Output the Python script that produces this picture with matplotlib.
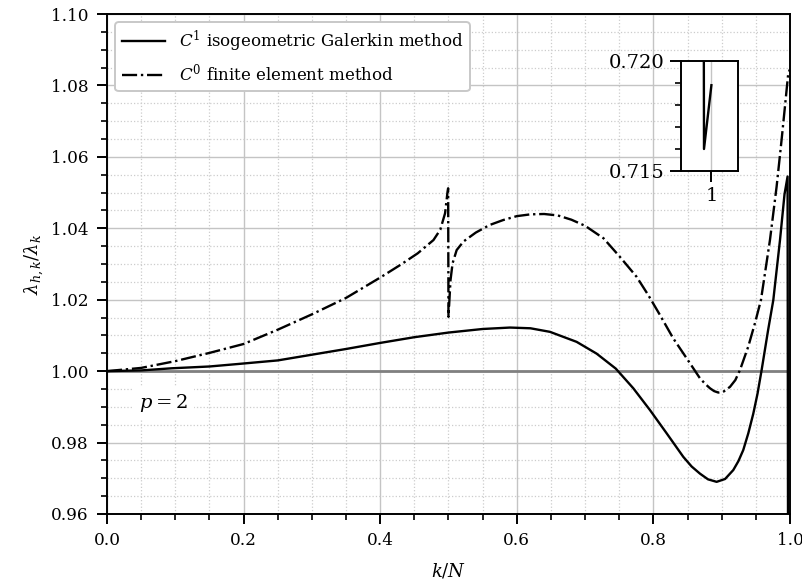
import numpy as np
import matplotlib
matplotlib.use("Agg")
import matplotlib.pyplot as plt
from matplotlib.ticker import MultipleLocator, FormatStrFormatter

plt.rcParams['font.family'] = ['DejaVu Serif']
plt.rcParams['mathtext.fontset'] = 'dejavuserif'
plt.rcParams['axes.linewidth'] = 1.4

# normalized discrete eigenvalues lambda_{h,k}/lambda_k against k/N
# C^1 quadratic isogeometric Galerkin (last mode is the outlier)
iga_x = [0.000, 0.050, 0.095, 0.150, 0.192, 0.250, 0.300, 0.350, 0.400, 0.450,
         0.500, 0.550, 0.590, 0.620, 0.6486, 0.6876, 0.7169, 0.745, 0.7706,
         0.795, 0.8194, 0.8438, 0.856, 0.8682, 0.880, 0.8926, 0.905, 0.917,
         0.9245, 0.9316, 0.939, 0.9463, 0.9525, 0.9585, 0.968, 0.9756, 0.9854,
         0.9920, 0.9965, 0.9987, 1.000]
iga_y = [1.0000, 1.0002, 1.0008, 1.0013, 1.0020, 1.0030, 1.0046, 1.0062, 1.0079, 1.0095,
         1.0108, 1.0118, 1.0122, 1.0120, 1.0110, 1.0082, 1.0049, 1.0007, 0.9952,
         0.9891, 0.9826, 0.9760, 0.9733, 0.9713, 0.9697, 0.9690, 0.9698, 0.9723,
         0.9748, 0.9779, 0.9826, 0.9881, 0.9937, 1.0003, 1.0115, 1.0199, 1.0367,
         1.0495, 1.0545, 0.7160, 0.7189]

# C^0 quadratic finite elements: acoustic branch then optical branch
fem_x = [0.000, 0.050, 0.100, 0.150, 0.200, 0.250, 0.300, 0.350, 0.400, 0.430,
         0.455, 0.478, 0.488, 0.495, 0.4985, 0.4995,
         0.5000, 0.5030, 0.5060, 0.5120, 0.5220, 0.540, 0.560, 0.580, 0.600,
         0.620, 0.640, 0.660, 0.680, 0.700, 0.727, 0.751, 0.7755, 0.7925,
         0.8097, 0.829, 0.8487, 0.8682, 0.876, 0.8829, 0.889, 0.8951, 0.903,
         0.9122, 0.920, 0.9268, 0.9388, 0.9487, 0.9575, 0.9707, 0.9804, 0.9877,
         0.9926, 0.9975, 1.000]
fem_y = [1.0000, 1.0009, 1.0028, 1.0051, 1.0076, 1.0116, 1.0159, 1.0205, 1.0262, 1.0298,
         1.0330, 1.0367, 1.0396, 1.0442, 1.0500, 1.0512,
         1.0152, 1.0255, 1.0302, 1.0339, 1.0363, 1.0388, 1.0409, 1.0423, 1.0434,
         1.0439, 1.0440, 1.0436, 1.0424, 1.0407, 1.0372, 1.0320, 1.0264, 1.0213,
         1.0157, 1.0092, 1.0036, 0.9980, 0.9964, 0.9952, 0.9944, 0.9940, 0.9943,
         0.9956, 0.9975, 1.0003, 1.0068, 1.0134, 1.0199, 1.0367, 1.0516, 1.0647,
         1.0740, 1.0834, 1.0845]

labels = [r'$C^1$ isogeometric Galerkin method', r'$C^0$ finite element method']

grid_major = '#c4c4c4'
grid_minor = '#cccccc'

fig = plt.figure(figsize=(8.02, 5.86), dpi=100)
ax = fig.add_axes([0.1334, 0.1229, 0.8516, 0.8532])

ax.plot(iga_x, iga_y, '-', color='black', lw=1.7, label=labels[0], zorder=3)
ax.plot(fem_x, fem_y, '-.', color='black', lw=1.7, label=labels[1], zorder=3)
ax.axhline(1.0, color='#808080', lw=2, zorder=2)

ax.set_xlim(0, 1)
ax.set_ylim(0.96, 1.10)
ax.xaxis.set_major_locator(MultipleLocator(0.2))
ax.xaxis.set_minor_locator(MultipleLocator(0.05))
ax.yaxis.set_major_locator(MultipleLocator(0.02))
ax.yaxis.set_minor_locator(MultipleLocator(0.005))
ax.xaxis.set_major_formatter(FormatStrFormatter('%.1f'))
ax.yaxis.set_major_formatter(FormatStrFormatter('%.2f'))
ax.tick_params(which='major', length=7, width=1.4, labelsize=12.2, pad=6)
ax.tick_params(which='minor', length=4, width=1.2)
ax.grid(which='major', color=grid_major, lw=1.0, ls='-', zorder=0)
ax.grid(which='minor', color=grid_minor, lw=0.9, ls=':', zorder=0)
ax.set_axisbelow(True)

ax.set_xlabel(r'$k/N$', fontsize=13, labelpad=9)
ax.set_ylabel(r'$\lambda_{h,k}/\lambda_k$', fontsize=13, labelpad=4)

ax.text(0.083, 0.991, r'$p=2$', fontsize=14, ha='center', va='center',
        bbox=dict(facecolor='white', edgecolor='none', pad=4), zorder=4)

leg = ax.legend(loc='upper left', fontsize=12, handlelength=2.6, framealpha=1,
                edgecolor='#c8c8c8', borderaxespad=0.5)
leg.get_frame().set_linewidth(1.4)

# zoom on the outlier mode
ins = fig.add_axes([0.849, 0.7082, 0.0711, 0.1877])
ins.plot(iga_x, iga_y, '-', color='black', lw=1.7)
ins.set_xlim(0.99465, 1.00465)
ins.set_ylim(0.715, 0.720)
ins.set_xticks([1.0])
ins.set_xticklabels(['1'])
ins.yaxis.set_major_locator(MultipleLocator(0.005))
ins.yaxis.set_minor_locator(MultipleLocator(0.001))
ins.yaxis.set_major_formatter(FormatStrFormatter('%.3f'))
ins.tick_params(which='major', length=8, width=1.4, labelsize=14)
ins.tick_params(which='minor', length=4, width=1.2)
ins.grid(which='major', axis='x', color=grid_major, lw=1.0)
for s in ins.spines.values():
    s.set_linewidth(1.4)

fig.savefig('out.png', dpi=100)
